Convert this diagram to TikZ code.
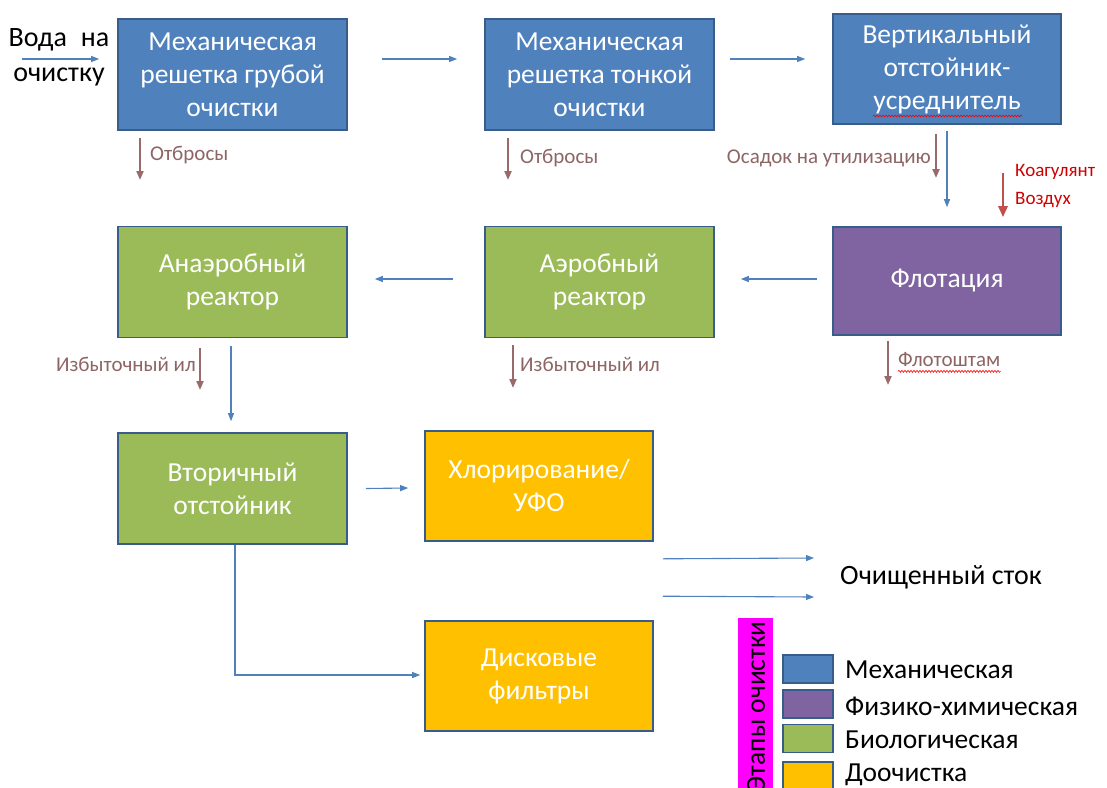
\documentclass[tikz,border=0pt]{standalone}
\usepackage{fontspec}
\setmainfont{Carlito}
\usetikzlibrary{arrows.meta,calc,decorations.pathmorphing}
\definecolor{mblue}{HTML}{4F81BD}
\definecolor{mpurple}{HTML}{8064A2}
\definecolor{mgreen}{HTML}{9BBB59}
\definecolor{mgold}{HTML}{FFC000}
\definecolor{mborder}{HTML}{385D8A}
\definecolor{mbrown}{HTML}{9A6A6A}
\definecolor{mbrowntext}{HTML}{8E6565}
\definecolor{mred}{HTML}{C0504D}
\definecolor{mredtext}{HTML}{D00000}
\definecolor{mmagenta}{HTML}{FF00FF}
\tikzset{
  stage/.style={draw=mborder, line width=1.6pt, minimum width=229pt, minimum height=111pt,
    inner sep=0pt, align=center, text=white, font=\fontsize{27.5}{33}\selectfont},
  flow/.style={draw=mblue, line width=1.1pt, -{Triangle[length=8pt,width=6pt]}},
  waste/.style={draw=mbrown, line width=2pt, -{Triangle[length=9pt,width=7pt]}},
  addin/.style={draw=mred, line width=2.6pt, -{Triangle[length=11pt,width=9pt]}},
  wlabel/.style={text=mbrowntext, font=\fontsize{21}{24}\selectfont, inner sep=0pt},
  swatch/.style={draw=mborder, line width=1.4pt, minimum width=50pt, minimum height=28pt, inner sep=0pt},
  legtext/.style={font=\fontsize{27.5}{30}\selectfont, anchor=west, inner sep=0pt},
  spell/.style={draw=red, line width=0.6pt, decorate, decoration={snake, amplitude=1pt, segment length=3pt}}
}
\begin{document}
\begin{tikzpicture}[x=1pt,y=-1pt]
\useasboundingbox (0,0) rectangle (1107,787);
\clip (0,0) rectangle (1107,787);
\fill[white] (0,0) rectangle (1107,787);

% boxes
\node[stage, fill=mblue] (b1) at (232.5,74.5) {Механическая\\решетка грубой\\очистки};
\node[stage, fill=mblue] (b2) at (599.5,74.5) {Механическая\\решетка тонкой\\очистки};
\node[stage, fill=mblue, minimum width=228pt, minimum height=110pt] (b3) at (947,69) {Вертикальный\\отстойник-\\усреднитель};
\node[stage, fill=mgreen] (an) at (232.5,282) {Анаэробный\\реактор};
\node[stage, fill=mgreen] (aer) at (599.5,282) {Аэробный\\реактор};
\node[stage, fill=mpurple, minimum width=228pt, minimum height=108pt] (fl) at (947,281) {Флотация};
\node[stage, fill=mgreen] (sec) at (232.5,488.5) {Вторичный\\отстойник};
\node[stage, fill=mgold, minimum width=228pt, minimum height=110pt] (chl) at (539,486) {Хлорирование/\\УФО};
\node[stage, fill=mgold, minimum width=228pt, minimum height=110pt] (disk) at (539,676) {Дисковые\\фильтры};

% input
\node[font=\fontsize{28}{35}\selectfont, align=center, inner sep=0pt] (in) at (59,57) {Вода\enspace на\\очистку};
\coordinate (in0) at (22,59);
\draw[flow] (in0) -- ($(b1.west)+(-18,-15.5)$);

% main flow
\draw[flow] ($(b1.east)+(34,-15.5)$) -- ($(b2.west)+(-27,-15.5)$);
\draw[flow] ($(b2.east)+(15,-15.5)$) -- ($(b3.west)+(-27,-10)$);
\draw[flow] ($(b3.south)+(0,6)$) -- ($(fl.north)+(0,-19)$);
\draw[flow] ($(fl.west)+(-15,-2)$) -- ($(aer.east)+(26,-3)$);
\draw[flow] ($(aer.west)+(-31,-3)$) -- ($(an.east)+(27,-3)$);
\draw[flow] ($(an.south)+(-1.5,8)$) -- ($(sec.north)+(-1.5,-11)$);
\draw[flow] ($(sec.east)+(18,0)$) -- ($(chl.west)+(-16,2)$);
\draw[flow] ($(sec.south)+(2.5,0)$) |- ($(disk.west)+(-4,-1)$);

% output
\node[font=\fontsize{28}{30}\selectfont, anchor=west, inner sep=0pt] (out) at (840,577) {Очищенный сток};
\draw[flow] ($(chl.south east)+(9,17)$) -- ($(out.west)+(-26,-19)$);
\draw[flow] ($(disk.north east)+(9,-24)$) -- ($(out.west)+(-26,20)$);

% waste streams
\coordinate (w1) at (140,180);
\draw[waste] ($(b1.south)+(-92.5,7)$) -- (w1);
\node[wlabel, anchor=west] (l1) at (150,155) {Отбросы};
\coordinate (w2) at (508,180);
\draw[waste] ($(b2.south)+(-91.5,7)$) -- (w2);
\node[wlabel, anchor=west] (l2) at (520,158) {Отбросы};
\coordinate (w3) at (936,178);
\draw[waste] ($(b3.south)+(-11,9)$) -- (w3);
\node[wlabel, anchor=east] (l3) at (931,158) {Осадок на утилизацию};
\coordinate (w4) at (200,390);
\draw[waste] ($(an.south)+(-32.5,10)$) -- (w4);
\node[wlabel, anchor=east] (l4) at (196,364) {Избыточный ил};
\coordinate (w5) at (513,388);
\draw[waste] ($(aer.south)+(-86.5,7)$) -- (w5);
\node[wlabel, anchor=west] (l5) at (520,364) {Избыточный ил};
\coordinate (w6) at (888,385);
\draw[waste] ($(fl.south)+(-59,5)$) -- (w6);
\node[wlabel, anchor=west] (l6) at (898,360) {Флотоштам};
\draw[spell] ($(l6.south west)+(0,4)$) -- ($(l6.south east)+(0,4)$);
\draw[spell] (873,116) -- (1022,116);

% reagents
\coordinate (r0) at (1003,173);
\draw[addin] (r0) -- ($(fl.north)+(56,-9)$);
\node[text=mredtext, font=\fontsize{19}{28}\selectfont, anchor=north west, align=left, inner sep=0pt] (rl) at (1015,164) {Коагулянт\\Воздух};

% legend
\fill[mmagenta] (738,618) rectangle (773,790);
\node[rotate=90, anchor=east, inner sep=0pt, font=\fontsize{27.5}{30}\selectfont] (lt) at (756,621) {Этапы очистки};
\node[swatch, fill=mblue] (s1) at (808,669) {};
\node[swatch, fill=mpurple] (s2) at (808,704) {};
\node[swatch, fill=mgreen] (s3) at (808,738.5) {};
\node[swatch, fill=mgold] (s4) at (808,776) {};
\node[legtext] (t1) at (845,670) {Механическая};
\node[legtext] (t2) at (845,706) {Физико-химическая};
\node[legtext] (t3) at (845,740) {Биологическая};
\node[legtext] (t4) at (845,775) {Доочистка};
\end{tikzpicture}
\end{document}
